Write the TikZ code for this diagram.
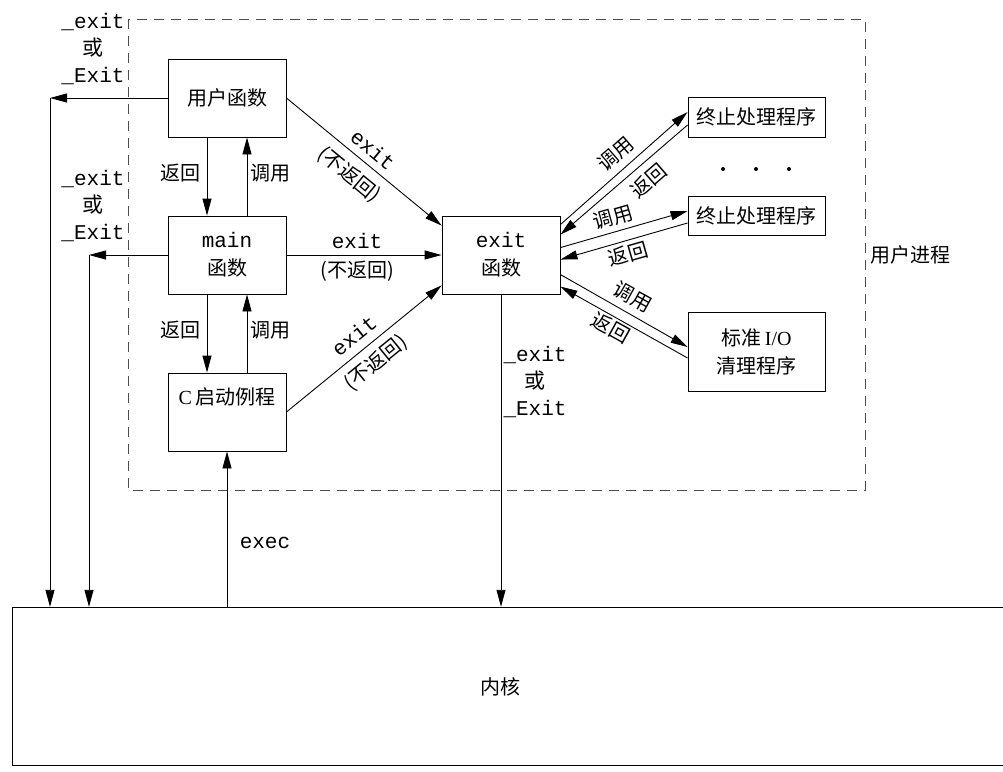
\documentclass[tikz,border=0pt]{standalone}
\usepackage{fontspec}
\setmainfont{Liberation Serif}
\setmonofont{Liberation Mono}
\newfontfamily\cjk{Noto Sans CJK SC}
\usetikzlibrary{arrows.meta,calc}

\begin{document}
\begin{tikzpicture}[x=1pt,y=-1pt,
  box/.style={draw,line width=0.9pt,inner sep=0pt,align=center,font=\fontsize{20}{28}\selectfont},
  arr/.style={line width=0.9pt,-{Triangle[length=17pt,width=9pt]}},
  zh/.style={font=\fontsize{20}{27}\selectfont\cjk},
  tt/.style={font=\fontsize{21}{27}\selectfont\ttfamily},
  lbl/.style={inner sep=0pt},
]
\useasboundingbox (0,0) rectangle (1003,771);
% user process frame
\draw[line width=0.9pt, dash pattern=on 10pt off 7pt, black!70] (128,19) rectangle (865,490);
\node[zh] (up) at (910,255) {用户进程};

% boxes
\node[box, minimum width=118pt, minimum height=78pt] (u) at (227,98) {\cjk 用户函数};
\node[box, minimum width=118pt, minimum height=78pt] (m) at (227,255) {{\fontsize{21}{28}\selectfont\ttfamily main}\\{\cjk 函数}};
\node[box, minimum width=118pt, minimum height=78pt] (C) at (227,412) {};
\node[font=\fontsize{20}{27}\selectfont] (Ct) at (227,397) {C\,{\cjk 启动例程}};
\node[box, minimum width=118pt, minimum height=78pt] (ex) at (501,255) {{\fontsize{21}{28}\selectfont\ttfamily exit}\\{\cjk 函数}};
\node[box, minimum width=137pt, minimum height=40pt] (th1) at (756.5,117) {\cjk 终止处理程序};
\node[box, minimum width=137pt, minimum height=39pt] (th2) at (756.5,216) {\cjk 终止处理程序};
\node[box, minimum width=137pt, minimum height=79pt] (io) at (756.5,352) {{\cjk 标准}\,I/O\\{\cjk 清理程序}};

% dots
\fill (723,169) circle (2pt);
\fill (756,169) circle (2pt);
\fill (789,169) circle (2pt);

% kernel
\node[minimum width=1010pt, minimum height=158pt, inner sep=0pt] (k) at (517,686) {};
\draw[line width=0.9pt] (1010,607) -- (12,607) -- (12,765) -- (1010,765);
\node[zh] (kt) at (500,687) {内核};

% left exits
\coordinate (c1) at (50,98);
\coordinate (c2) at (89,255);
\draw[arr] (u.west) -- (c1);
\draw[arr] (c1) -- (c1 |- k.north);
\draw[arr] (m.west) -- (c2);
\draw[arr] (c2) -- (c2 |- k.north);
\node[tt, align=center] (l1) at (93,49) {\_exit\\{\cjk 或}\\\_Exit};
\node[tt, align=center] (l2) at (93,206) {\_exit\\{\cjk 或}\\\_Exit};

% user func <-> main <-> C
\draw[arr] ($(u.south)+(-20,0)$) -- ($(m.north)+(-20,0)$);
\draw[arr] ($(m.north)+(20,0)$) -- ($(u.south)+(20,0)$);
\draw[arr] ($(m.south)+(-20,0)$) -- ($(C.north)+(-20,0)$);
\draw[arr] ($(C.north)+(20,0)$) -- ($(m.south)+(20,0)$);
\node[zh] at (180,173) {返回};
\node[zh] at (270,173) {调用};
\node[zh] at (180,330) {返回};
\node[zh] at (270,330) {调用};

% exec
\draw[arr] (k.north -| C.south) -- (C.south);
\node[tt] (execl) at (265,543) {exec};

% exits to exit function
\draw[arr] (u.east) -- ($(ex.north west)+(0,10)$);
\node[tt, rotate=-39.4, lbl] at (373,150) {exit};
\node[zh, rotate=-39.4, lbl] at (349,175) {(不返回)};
\draw[arr] (m.east) -- (ex.west);
\node[tt, lbl] at (357,241) {exit};
\node[zh, lbl] at (357,271) {(不返回)};
\draw[arr] (C.east) -- ($(ex.south west)+(0,-9)$);
\node[tt, rotate=39.2, lbl] at (354,336) {exit};
\node[zh, rotate=39.2, lbl] at (376,363) {(不返回)};

% exit function to kernel
\draw[arr] (ex.south) -- (ex.south |- k.north);
\node[tt, align=center] (l3) at (535,382) {\_exit\\{\cjk 或}\\\_Exit};

% handlers
\draw[arr] ($(ex.north east)+(0,9)$) -- ($(th1.west)+(0,-5)$);
\draw[arr] ($(th1.west)+(0,8)$) -- ($(ex.north east)+(0,19)$);
\node[zh, rotate=41, lbl] at (616,154) {调用};
\node[zh, rotate=41, lbl] at (649,181) {返回};
\draw[arr] ($(ex.north east)+(0,32)$) -- ($(th2.west)+(0,-5)$);
\draw[arr] ($(th2.west)+(0,7)$) -- ($(ex.north east)+(0,44)$);
\node[zh, rotate=16, lbl] at (613,217) {调用};
\node[zh, rotate=16, lbl] at (628,254) {返回};
\draw[arr] ($(ex.north east)+(0,59)$) -- ($(io.west)+(0,-5)$);
\draw[arr] ($(io.west)+(0,6)$) -- ($(ex.north east)+(0,71)$);
\node[zh, rotate=-29, lbl] at (633,297) {调用};
\node[zh, rotate=-29, lbl] at (611,328) {返回};
\end{tikzpicture}
\end{document}
